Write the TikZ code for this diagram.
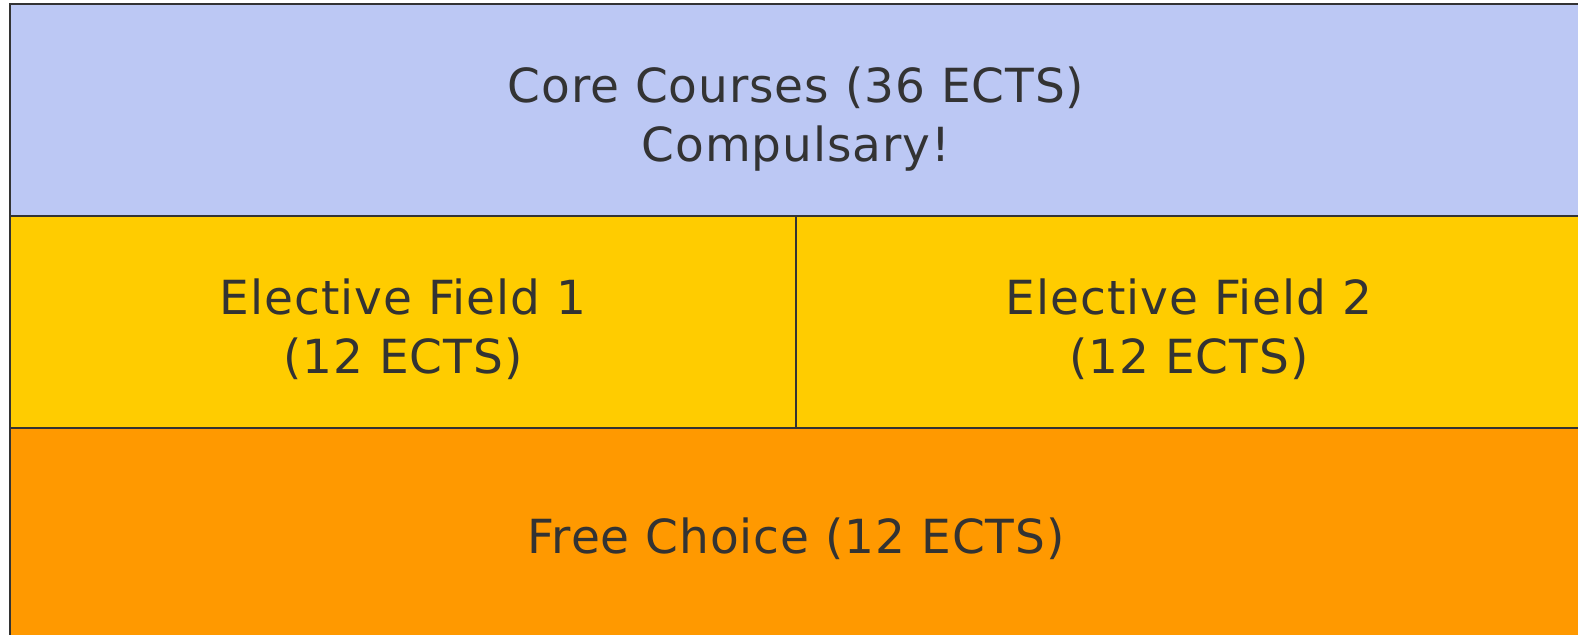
\documentclass[tikz,border=0pt]{standalone}
\usepackage{fontspec}
\setmainfont[LetterSpace=2]{DejaVu Sans}
\usetikzlibrary{positioning}
\definecolor{corebl}{RGB}{188,200,244}
\definecolor{elecyel}{RGB}{255,204,0}
\definecolor{freeor}{RGB}{255,153,0}
\definecolor{linegr}{RGB}{51,51,51}
\tikzset{field/.style={draw=linegr,line width=1pt,inner sep=0pt,
  outer sep=0pt,minimum height=106pt},
  fieldtext/.style={text=linegr,font=\fontsize{23.5}{29.5}\selectfont,
  align=center,inner sep=0pt}}

\begin{document}
\begin{tikzpicture}
  \useasboundingbox (0,0) rectangle (789pt,-317.5pt);
  \clip (0,0) rectangle (789pt,-317.5pt);
  % top row
  \node[field,fill=corebl,minimum width=786pt,anchor=north west,
    label={[fieldtext,yshift=-4.5pt]center:Core Courses (36 ECTS)\\Compulsary!}] (core) at (5pt,-2pt) {};
  % electives
  \node[field,fill=elecyel,minimum width=393pt,below right=0pt of core.south west,
    label={[fieldtext,yshift=-3.5pt]center:Elective Field 1\\(12 ECTS)}] (elec1) {};
  \node[field,fill=elecyel,minimum width=393pt,right=0pt of elec1,
    label={[fieldtext,yshift=-3.5pt]center:Elective Field 2\\(12 ECTS)}] (elec2) {};
  % bottom row
  \node[field,fill=freeor,minimum width=786pt,below right=0pt of elec1.south west,
    label={[fieldtext,yshift=-2.5pt]center:Free Choice (12 ECTS)}] (free) {};
\end{tikzpicture}
\end{document}
